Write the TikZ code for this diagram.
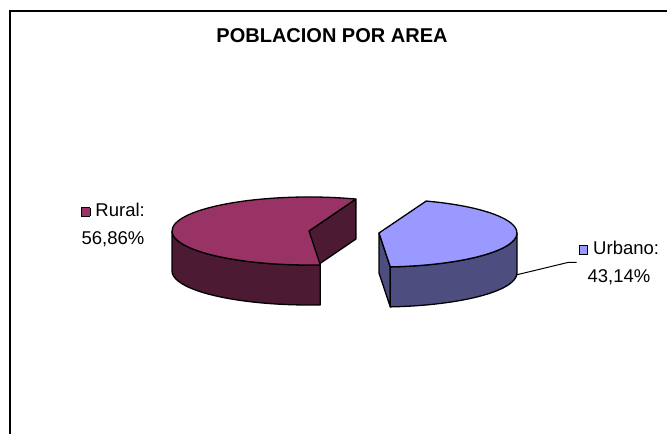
\documentclass[tikz,border=0pt]{standalone}
\usepackage{fontspec}
\setmainfont{Liberation Sans}
\usetikzlibrary{calc}

\definecolor{ruraltop}{HTML}{993366}
\definecolor{ruralside}{HTML}{4D1A33}
\definecolor{urbtop}{HTML}{9999FF}
\definecolor{urbside}{HTML}{4D4D80}

% small coloured square in front of a legend entry
\newcommand{\legkey}[1]{{\setlength{\fboxsep}{0pt}\setlength{\fboxrule}{0.9pt}%
  \raisebox{0.5pt}{\fcolorbox{black}{#1}{\rule{0pt}{7.5pt}\hspace{7.5pt}}}}\hspace{5pt}}

\tikzset{
  slice/.style={draw=black,line width=1.3pt,line join=round},
  lbl/.style={align=center,inner sep=2pt,font=\fontsize{18.5}{28}\selectfont},
  leader/.style={line width=1pt}
}

\begin{document}
\begin{tikzpicture}[x=1pt,y=1pt]

  \useasboundingbox (0,0) rectangle (667,434);
  \draw[line width=1.8pt] (10,0) -- (10,423) -- (667,423);

  \node[font=\fontsize{20}{24}\selectfont\bfseries] (title) at (332,398) {POBLACION POR AREA};

  % rural slice
  \begin{scope}[shift={(309,203)}]
    \filldraw[slice,fill=ruralside] (0,0) -- (70:137 and 34) -- ++(0,-40) -- (0,-40) -- cycle;
    \filldraw[slice,fill=ruralside] (180:137 and 34)
      arc[start angle=180,end angle=274.7,x radius=137pt,y radius=34pt] -- ++(0,-40)
      arc[start angle=274.7,end angle=180,x radius=137pt,y radius=34pt] -- cycle;
    \filldraw[slice,fill=ruraltop] (0,0) -- (70:137 and 34)
      arc[start angle=70,end angle=274.7,x radius=137pt,y radius=34pt] -- cycle;
  \end{scope}

  % urbano slice
  \begin{scope}[shift={(379,201)}]
    \filldraw[slice,fill=urbside] (0,0) -- (-85.3:138 and 34) -- ++(0,-40) -- (0,-40) -- cycle;
    \filldraw[slice,fill=urbside] (-85.3:138 and 34)
      arc[start angle=-85.3,end angle=0,x radius=138pt,y radius=34pt] -- ++(0,-40)
      arc[start angle=0,end angle=-85.3,x radius=138pt,y radius=34pt] -- cycle;
    \filldraw[slice,fill=urbtop] (0,0) -- (-85.3:138 and 34)
      arc[start angle=-85.3,end angle=70,x radius=138pt,y radius=34pt] -- cycle;
    \coordinate (urbtip) at ($(-3:138 and 34)+(0,-40)$);
  \end{scope}

  \node[lbl] (rural) at (113,209.5) {\legkey{ruraltop}Rural:\\56,86\%};
  \node[lbl] (urbano) at (619,171.5) {\legkey{urbtop}Urbano:\\43,14\%};

  \draw[leader] (urbtip) -- ([xshift=-9pt]urbano.west) -- (urbano.west);

\end{tikzpicture}
\end{document}
